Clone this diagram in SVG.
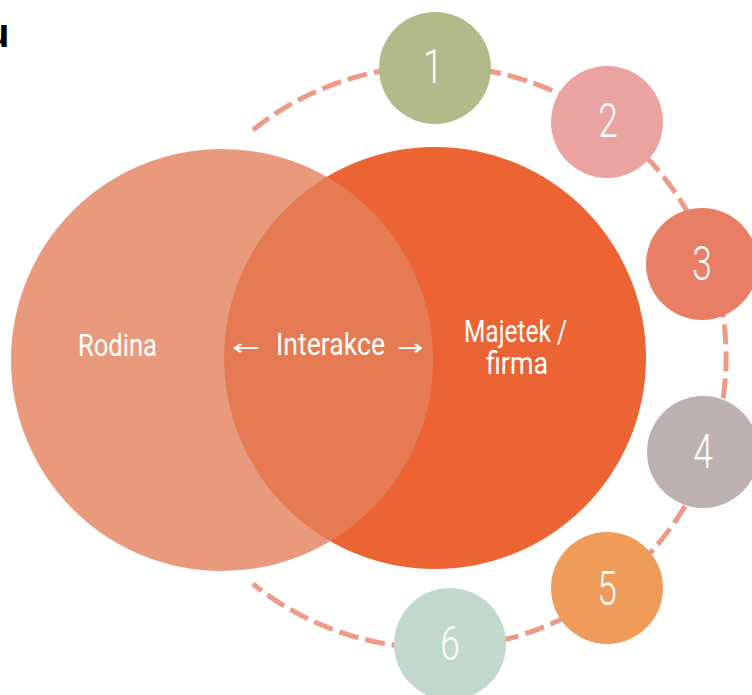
<svg xmlns="http://www.w3.org/2000/svg" width="752" height="695" viewBox="0 0 752 695">
<style>
.lbl{font-family:Roboto,"Liberation Sans",sans-serif;font-weight:400;font-size:32px;fill:#ffffff}
.num{font-family:Roboto,"Liberation Sans",sans-serif;font-weight:300;font-size:49px;fill:#ffffff;text-anchor:middle}
.arr{font-family:"DejaVu Sans",sans-serif;font-size:22px;fill:#ffffff}
</style>
<rect width="752" height="695" fill="#ffffff"/>
<text x="-15" y="47" font-family="Liberation Sans, sans-serif" font-weight="bold" font-size="40" fill="#000000">u</text>
<g id="connectors">
<path d="M 253 130 A 291 291 0 1 1 253 584" fill="none" stroke="#ee9a87" stroke-width="5" stroke-dasharray="20 7"/>
</g>
<g id="majetek">
<circle cx="435" cy="358" r="211" fill="#ec6433"/>
<text class="lbl" x="464" y="342" textLength="103" lengthAdjust="spacingAndGlyphs">Majetek /</text>
<text class="lbl" x="486" y="374" textLength="62" lengthAdjust="spacingAndGlyphs">firma</text>
</g>
<g id="rodina">
<circle cx="222" cy="360" r="211" fill="#e5815b" fill-opacity="0.8"/>
<text class="lbl" x="78" y="356" textLength="79" lengthAdjust="spacingAndGlyphs">Rodina</text>
</g>
<g id="interakce">
<text class="arr" x="232" y="355" textLength="28" lengthAdjust="spacingAndGlyphs">←</text>
<text class="lbl" x="276" y="355" textLength="109" lengthAdjust="spacingAndGlyphs">Interakce</text>
<text class="arr" x="397" y="355" textLength="27" lengthAdjust="spacingAndGlyphs">→</text>
</g>
<g id="n1"><circle cx="435" cy="68" r="56" fill="#b2ba8a"/><text class="num" transform="translate(433 83) scale(0.72 1)">1</text></g>
<g id="n2"><circle cx="607" cy="122" r="56" fill="#eba3a2"/><text class="num" transform="translate(608 137) scale(0.72 1)">2</text></g>
<g id="n3"><circle cx="702" cy="264" r="56" fill="#e97e67"/><text class="num" transform="translate(702 280) scale(0.72 1)">3</text></g>
<g id="n4"><circle cx="703" cy="452" r="56" fill="#bcb0b1"/><text class="num" transform="translate(703 468) scale(0.72 1)">4</text></g>
<g id="n5"><circle cx="607" cy="588" r="56" fill="#ef9b59"/><text class="num" transform="translate(607 605) scale(0.72 1)">5</text></g>
<g id="n6"><circle cx="450" cy="644" r="56" fill="#c2d8cc"/><text class="num" transform="translate(450 660) scale(0.72 1)">6</text></g>
</svg>
